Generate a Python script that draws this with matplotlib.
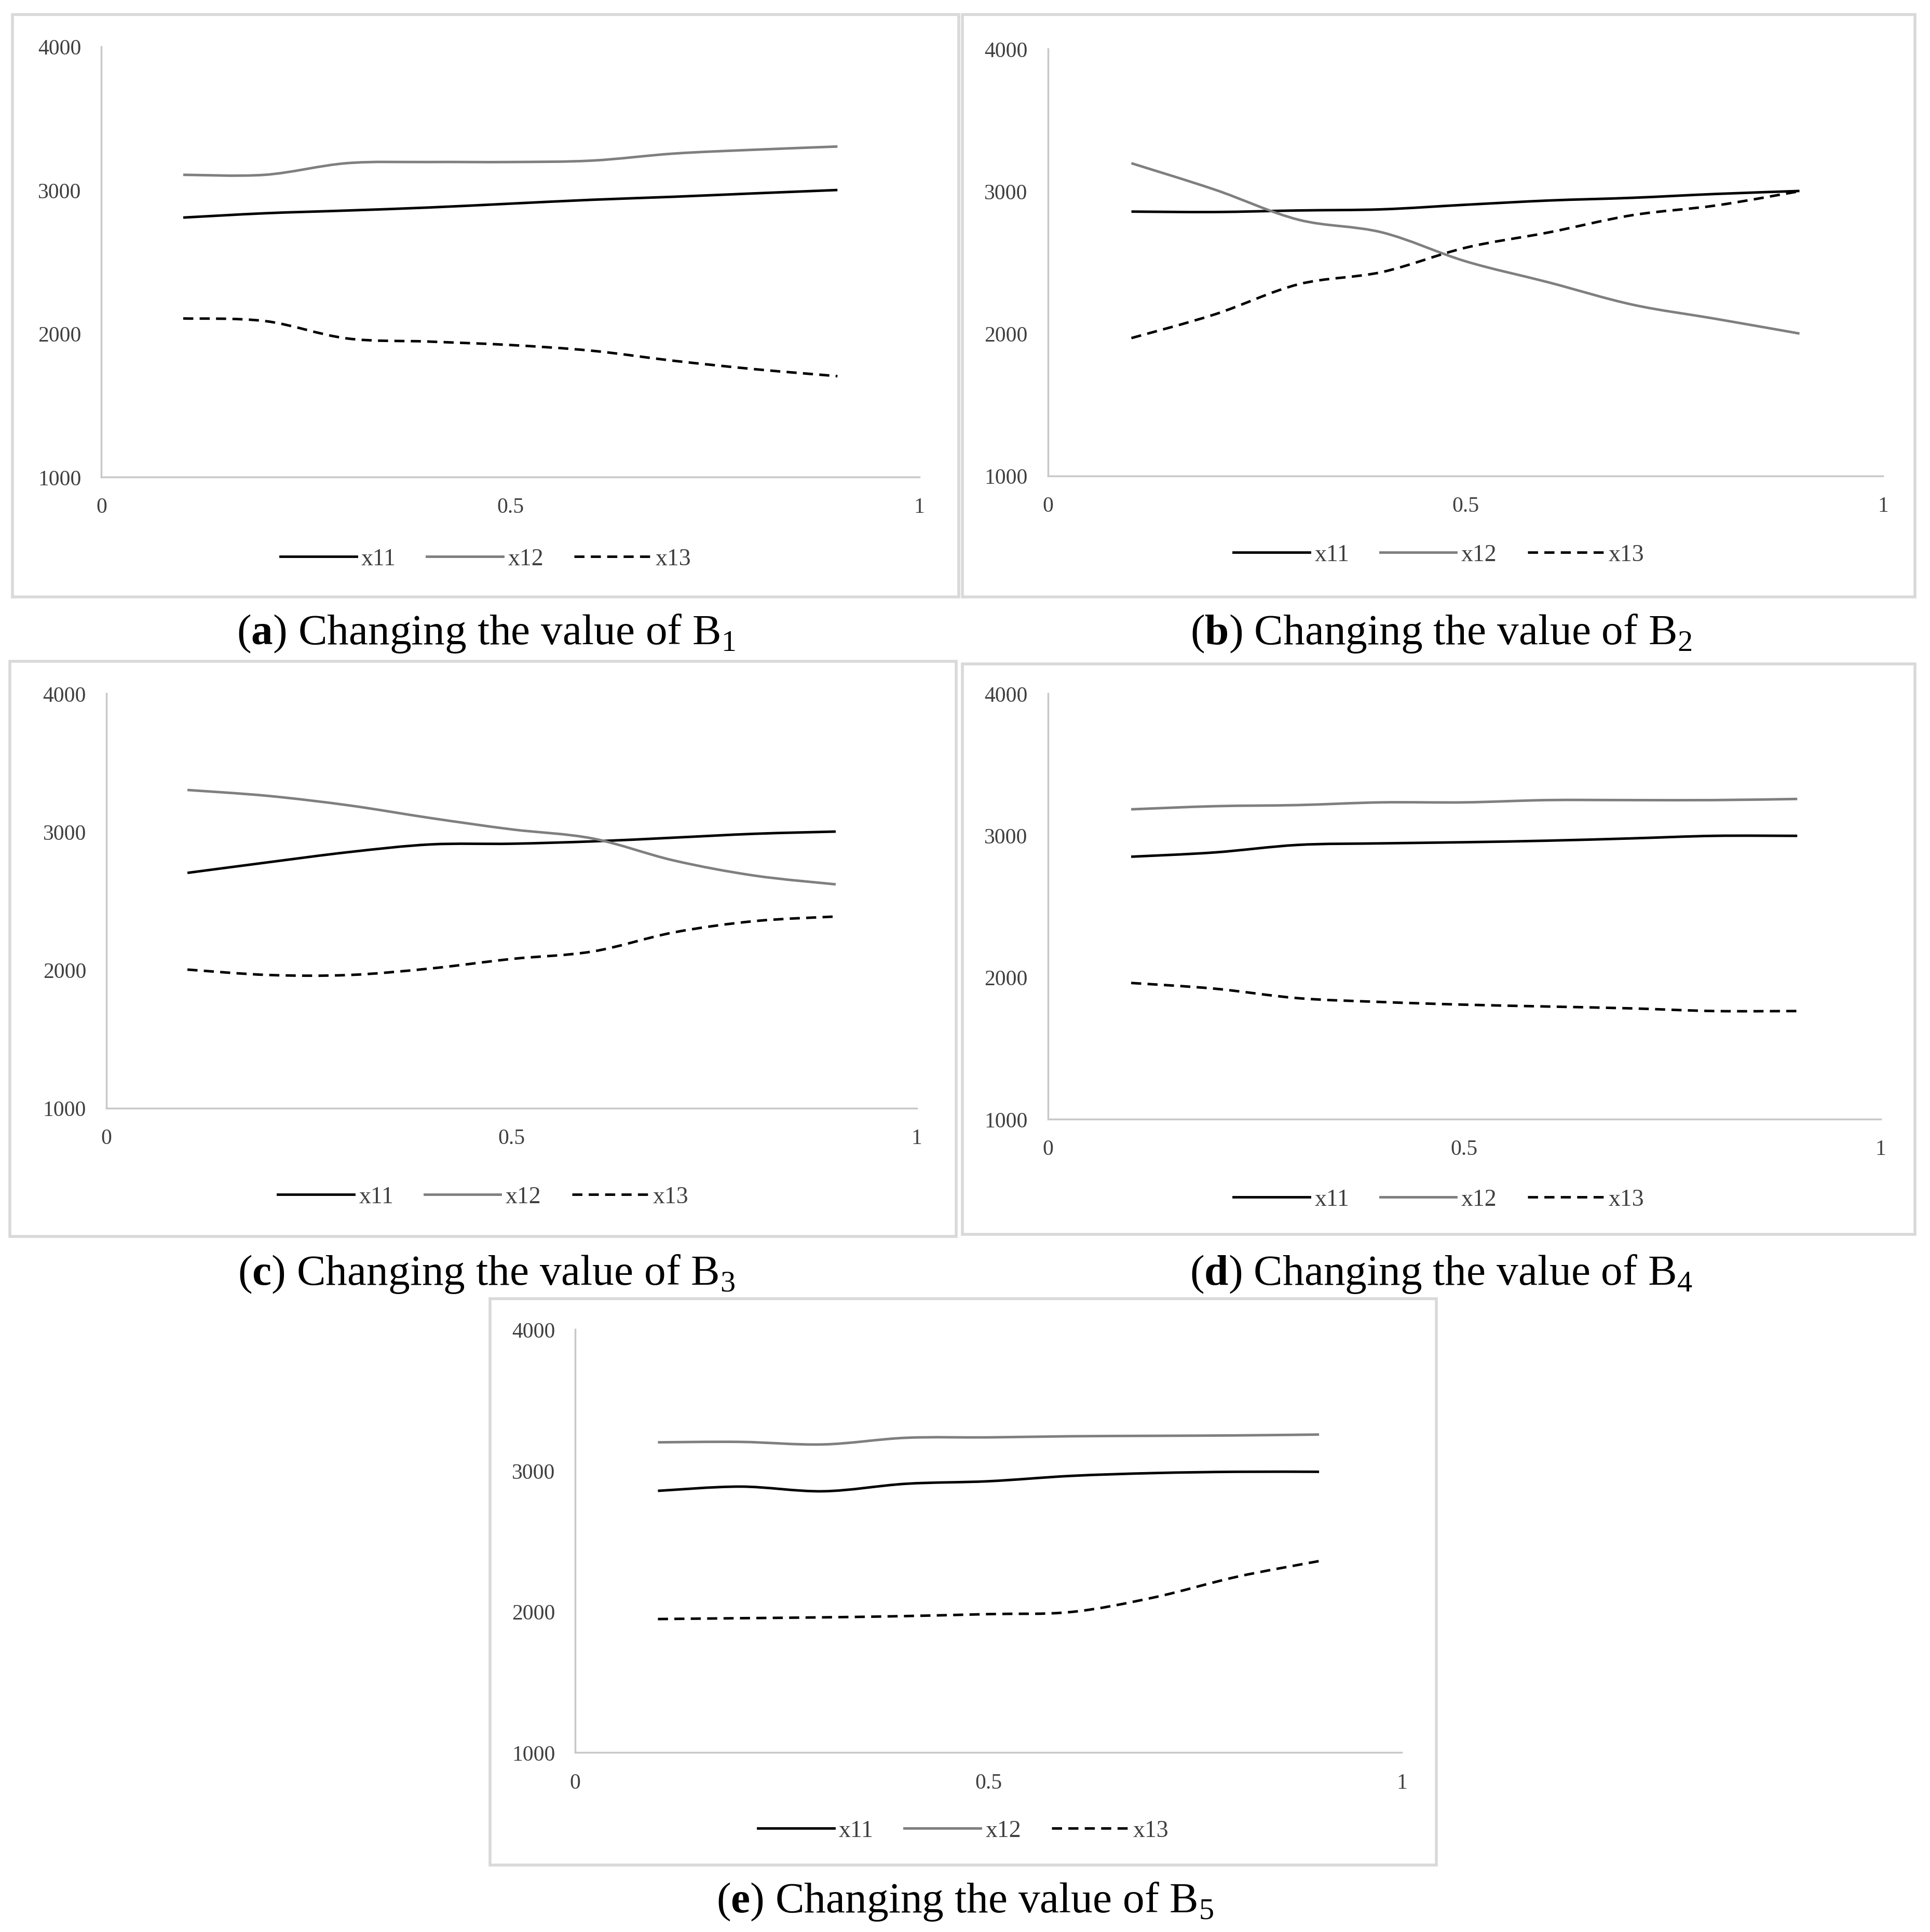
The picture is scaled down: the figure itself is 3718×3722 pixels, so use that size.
import matplotlib
matplotlib.use("Agg")
import matplotlib.pyplot as plt
from matplotlib.path import Path
from matplotlib.patches import PathPatch, Rectangle
from matplotlib.lines import Line2D

plt.rcParams['font.family'] = ['Liberation Serif', 'DejaVu Serif']
plt.rcParams['mathtext.fontset'] = 'custom'
plt.rcParams['mathtext.rm'] = 'Liberation Serif'
plt.rcParams['mathtext.bf'] = 'Liberation Serif:bold'

# x axis values (weight of the changed B)
x = [0.1, 0.2, 0.3, 0.4, 0.5, 0.6, 0.7, 0.8, 0.9]

# (a) changing B1
a_x11 = [2808, 2838, 2857, 2878, 2905, 2932, 2953, 2977, 3000]
a_x12 = [3106, 3106, 3187, 3195, 3195, 3205, 3254, 3281, 3303]
a_x13 = [2105, 2087, 1966, 1944, 1920, 1880, 1810, 1751, 1703]
# (b) changing B2
b_x11 = [2857, 2854, 2865, 2873, 2905, 2935, 2954, 2981, 3002]
b_x12 = [3197, 3011, 2800, 2711, 2508, 2359, 2203, 2103, 2000]
b_x13 = [1968, 2135, 2346, 2432, 2603, 2711, 2832, 2900, 3000]
# (c) changing B3
c_x11 = [2702, 2779, 2853, 2908, 2913, 2930, 2957, 2985, 3001]
c_x12 = [3302, 3259, 3190, 3099, 3017, 2951, 2792, 2682, 2619]
c_x13 = [2002, 1963, 1963, 2010, 2079, 2133, 2271, 2353, 2386]
# (d) changing B4
d_x11 = [2850, 2880, 2933, 2944, 2952, 2963, 2979, 2997, 2997]
d_x12 = [3184, 3206, 3214, 3233, 3233, 3249, 3249, 3249, 3257]
d_x13 = [1960, 1920, 1853, 1826, 1807, 1794, 1781, 1762, 1762]
# (e) changing B5
e_x11 = [2856, 2886, 2853, 2906, 2924, 2962, 2982, 2991, 2991]
e_x12 = [3200, 3203, 3185, 3232, 3235, 3243, 3246, 3249, 3255]
e_x13 = [1947, 1953, 1959, 1968, 1982, 1997, 2100, 2246, 2358]

series_names = ["x11", "x12", "x13"]
panel_letters = ["a", "b", "c", "d", "e"]
panel_data = [
    (a_x11, a_x12, a_x13),
    (b_x11, b_x12, b_x13),
    (c_x11, c_x12, c_x13),
    (d_x11, d_x12, d_x13),
    (e_x11, e_x12, e_x13),
]

W, H = 1560.0, 1562.0  # layout reference grid
# axes box (x0, x1, ytop, ybottom), frame box, legend y, caption (x, y)
axes_px = [(82, 743, 38, 386), (847, 1522, 40, 385), (86, 741, 561, 896),
           (847, 1520, 561, 905), (465, 1133, 1075, 1417)]
frame_px = [(10, 775, 12, 483), (778, 1548, 12, 483), (8, 773, 535, 1000),
            (778, 1548, 537, 998), (396, 1161, 1050, 1508)]
legend_y = [452, 449, 968, 970, 1480]
caption_pos = [(393, 512), (1165, 512), (393, 1030), (1165, 1030), (780, 1537)]

styles = [dict(color="black", linestyle="-"),
          dict(color="#7f7f7f", linestyle="-"),
          dict(color="black", linestyle=(0, (4, 2.5)))]
LW = 3.5


def smooth_path(xs, ys):
    # Catmull-Rom through the data points, as Excel "smoothed line"
    pts = list(zip(xs, ys))
    n = len(pts)
    verts = [pts[0]]
    codes = [Path.MOVETO]
    for i in range(n - 1):
        p0 = pts[i - 1] if i > 0 else pts[i]
        p1 = pts[i]
        p2 = pts[i + 1]
        p3 = pts[i + 2] if i + 2 < n else pts[i + 1]
        c1 = (p1[0] + (p2[0] - p0[0]) / 6, p1[1] + (p2[1] - p0[1]) / 6)
        c2 = (p2[0] - (p3[0] - p1[0]) / 6, p2[1] - (p3[1] - p1[1]) / 6)
        verts += [c1, c2, p2]
        codes += [Path.CURVE4] * 3
    return Path(verts, codes)


fig = plt.figure(figsize=(37.18, 37.23), dpi=100)

for k in range(5):
    fx0, fx1, fy0, fy1 = frame_px[k]
    fig.patches.append(Rectangle((fx0 / W, 1 - fy1 / H), (fx1 - fx0) / W, (fy1 - fy0) / H,
                                 transform=fig.transFigure, fill=False,
                                 edgecolor="#d9d9d9", linewidth=4))

    x0, x1, yt, yb = axes_px[k]
    ax = fig.add_axes([x0 / W, 1 - yb / H, (x1 - x0) / W, (yb - yt) / H])
    ax.set_xlim(0, 1)
    ax.set_ylim(1000, 4000)
    ax.set_xticks([0, 0.5, 1])
    ax.set_xticklabels(["0", "0.5", "1"])
    ax.set_yticks([1000, 2000, 3000, 4000])
    ax.tick_params(length=0, labelsize=30, pad=28, colors="#404040")
    for s in ["top", "right"]:
        ax.spines[s].set_visible(False)
    for s in ["left", "bottom"]:
        ax.spines[s].set_color("#c8c8c8")
        ax.spines[s].set_linewidth(2.5)
    ax.patch.set_alpha(0)

    handles = []
    for vals, name, st in zip(panel_data[k], series_names, styles):
        ax.add_patch(PathPatch(smooth_path(x, vals), fill=False, linewidth=LW,
                               capstyle="butt", **st))
        handles.append(Line2D([], [], linewidth=LW, label=name, **st))

    cx = (fx0 + fx1) / 2 / W
    fig.legend(handles=handles, loc="center", bbox_to_anchor=(cx, 1 - legend_y[k] / H),
               ncol=3, frameon=False, fontsize=33, handlelength=3.2,
               handletextpad=0.2, columnspacing=1.3, labelcolor="#404040")

    capx, capy = caption_pos[k]
    fig.text(capx / W, 1 - capy / H,
             "(" + r"$\mathbf{" + panel_letters[k] + "}$" + ") Changing the value of B"
             + r"$_{" + str(k + 1) + "}$",
             ha="center", va="center", fontsize=60)

fig.savefig("out.png", dpi=100)
